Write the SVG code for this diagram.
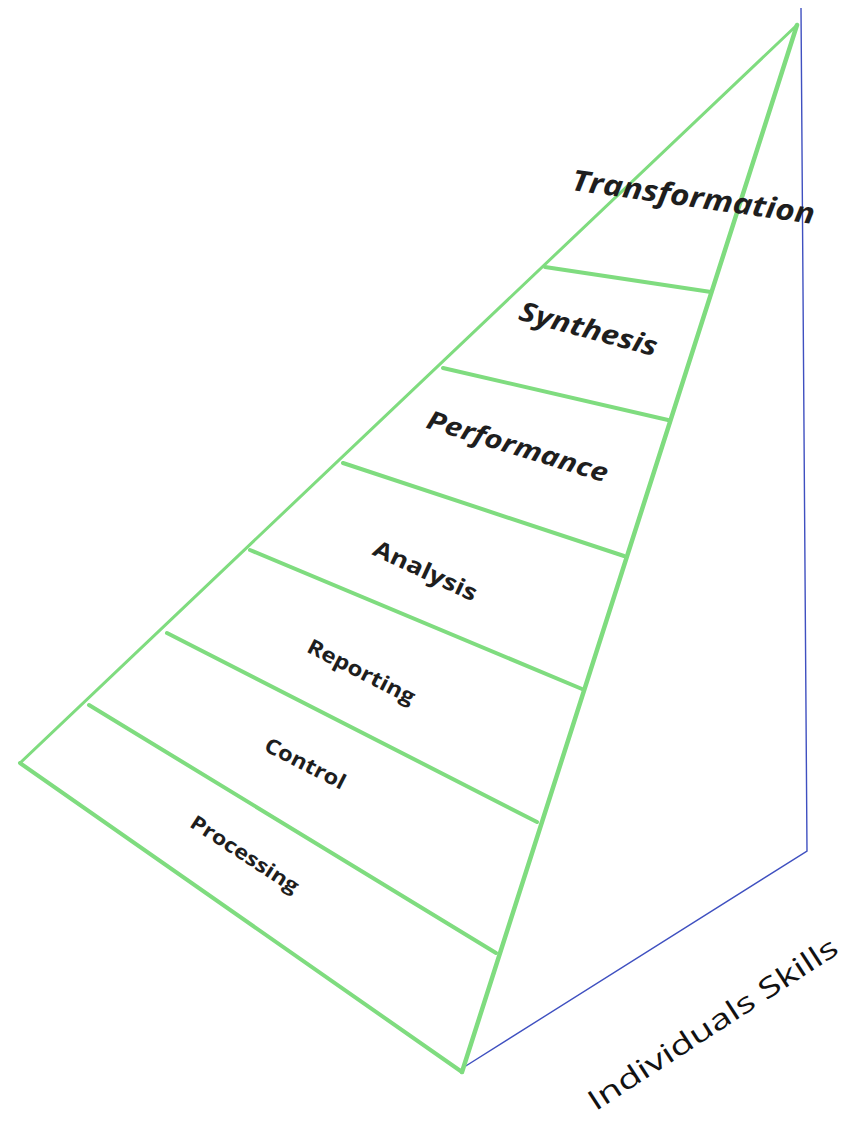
<svg xmlns="http://www.w3.org/2000/svg" width="846" height="1124" viewBox="0 0 846 1124">
<style>
.g{stroke:#7fdc7f;fill:none;stroke-linecap:round}
.b{stroke:#3f50c0;fill:none;stroke-width:1.4}
.lbl{font-family:"Open Sans","Noto Sans",sans-serif;font-weight:bold;fill:#1e1e1e;text-anchor:middle}
.ax{font-family:"Open Sans","Noto Sans",sans-serif;font-size:28px;fill:#111;text-anchor:middle}
</style>
<rect width="846" height="1124" fill="#fff"/>
<g id="connectors">
<polyline class="b" points="801,8 807,851 461,1069"/>
<line class="g" stroke-width="3" x1="797" y1="25" x2="20" y2="763"/>
<line class="g" stroke-width="4.5" x1="797" y1="25" x2="462" y2="1072"/>
<line class="g" stroke-width="4" x1="20" y1="763" x2="462" y2="1072"/>
<line class="g" stroke-width="4" x1="545" y1="267" x2="711" y2="292"/>
<line class="g" stroke-width="4" x1="443" y1="368" x2="668" y2="420"/>
<line class="g" stroke-width="4" x1="343" y1="463" x2="624" y2="556"/>
<line class="g" stroke-width="4" x1="250" y1="550" x2="582" y2="689"/>
<line class="g" stroke-width="4" x1="167" y1="633" x2="537" y2="822"/>
<line class="g" stroke-width="4" x1="89" y1="705" x2="496" y2="953"/>
</g>
<g id="transformation"><text class="lbl" font-style="italic" font-size="29" transform="translate(692,207) rotate(8)" textLength="245" lengthAdjust="spacingAndGlyphs">Transformation</text></g>
<g id="synthesis"><text class="lbl" font-style="italic" font-size="27" transform="translate(586,338) rotate(15)" textLength="142" lengthAdjust="spacingAndGlyphs">Synthesis</text></g>
<g id="performance"><text class="lbl" font-style="italic" font-size="26" transform="translate(515,455) rotate(17)" textLength="188" lengthAdjust="spacingAndGlyphs">Performance</text></g>
<g id="analysis"><text class="lbl" font-size="23" transform="translate(422,578) rotate(25)" textLength="112" lengthAdjust="spacingAndGlyphs">Analysis</text></g>
<g id="reporting"><text class="lbl" font-size="21" transform="translate(358,678) rotate(27)" textLength="118" lengthAdjust="spacingAndGlyphs">Reporting</text></g>
<g id="control"><text class="lbl" font-size="21" transform="translate(302,770) rotate(27)" textLength="88" lengthAdjust="spacingAndGlyphs">Control</text></g>
<g id="processing"><text class="lbl" font-size="20" transform="translate(241,860) rotate(33)" textLength="125" lengthAdjust="spacingAndGlyphs">Processing</text></g>
<g id="axis-label"><text class="ax" transform="translate(718,1032) rotate(-33)" textLength="292" lengthAdjust="spacingAndGlyphs">Individuals Skills</text></g>
</svg>
